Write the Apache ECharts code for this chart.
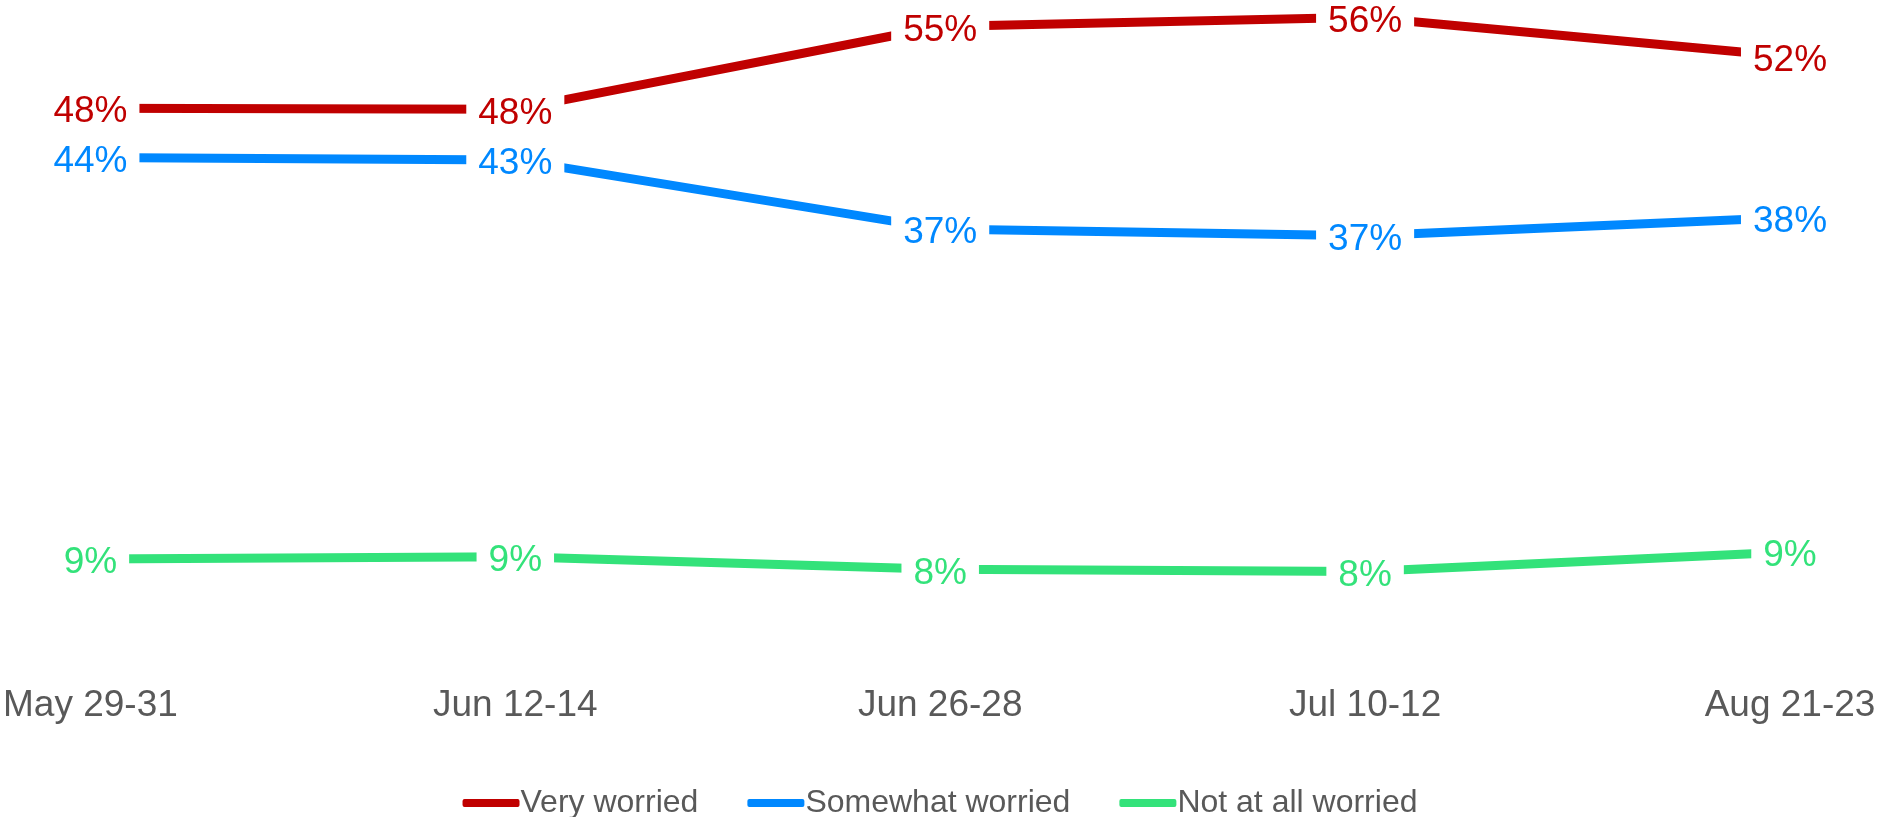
<!DOCTYPE html>
<html>
<head>
<meta charset="utf-8">
<title>Worried</title>
<script src="https://cdn.jsdelivr.net/npm/echarts@6/dist/echarts.min.js"></script>
<style>
  html, body {
    margin: 0;
    padding: 0;
    background: #ffffff;
  }
  #chart {
    width: 1880px;
    height: 817px;
  }
</style>
</head>
<body>
<div id="chart"></div>
<script>
const categories = ['May 29-31', 'Jun 12-14', 'Jun 26-28', 'Jul 10-12', 'Aug 21-23']
const veryWorried = [47.9, 47.8, 55.0, 55.8, 52.4]
const somewhatWorried = [43.6, 43.4, 37.4, 36.8, 38.4]
const notAtAllWorried = [8.7, 8.9, 7.8, 7.6, 9.3]

const font = '"Liberation Sans", Arial, sans-serif'
const grey = '#595959'

function makeSeries (name, data, color) {
  return {
    name: name,
    type: 'line',
    data: data,
    symbol: 'circle',
    symbolSize: 1,
    itemStyle: { color: color },
    lineStyle: { color: color, width: 9 },
    label: {
      show: true,
      position: 'inside',
      offset: [0, 4],
      color: color,
      fontSize: 37,
      fontFamily: font,
      backgroundColor: '#ffffff',
      padding: [0, 12],
      formatter: p => Math.round(p.value) + '%'
    },
    emphasis: { disabled: true }
  }
}

const $chart = echarts.init(document.getElementById('chart'))
$chart.setOption({
  animation: false,
  grid: {
    left: 90,
    right: 90,
    top: 15,
    bottom: 158
  },
  legend: {
    bottom: -2,
    left: 'center',
    padding: 0,
    itemWidth: 57,
    itemHeight: 8,
    itemGap: 49,
    icon: 'roundRect',
    textStyle: {
      fontSize: 32,
      fontFamily: font,
      color: grey,
      padding: [0, 0, 0, -4]
    },
    data: ['Very worried', 'Somewhat worried', 'Not at all worried']
  },
  xAxis: {
    type: 'category',
    boundaryGap: false,
    data: categories,
    axisLine: { show: false },
    axisTick: { show: false },
    axisLabel: {
      fontSize: 37,
      fontFamily: font,
      color: grey,
      margin: 28
    }
  },
  yAxis: {
    type: 'value',
    min: 0,
    max: 56,
    show: false
  },
  series: [
    makeSeries('Very worried', veryWorried, '#C00000'),
    makeSeries('Somewhat worried', somewhatWorried, '#0088FF'),
    makeSeries('Not at all worried', notAtAllWorried, '#33E27A')
  ]
})
</script>
</body>
</html>
